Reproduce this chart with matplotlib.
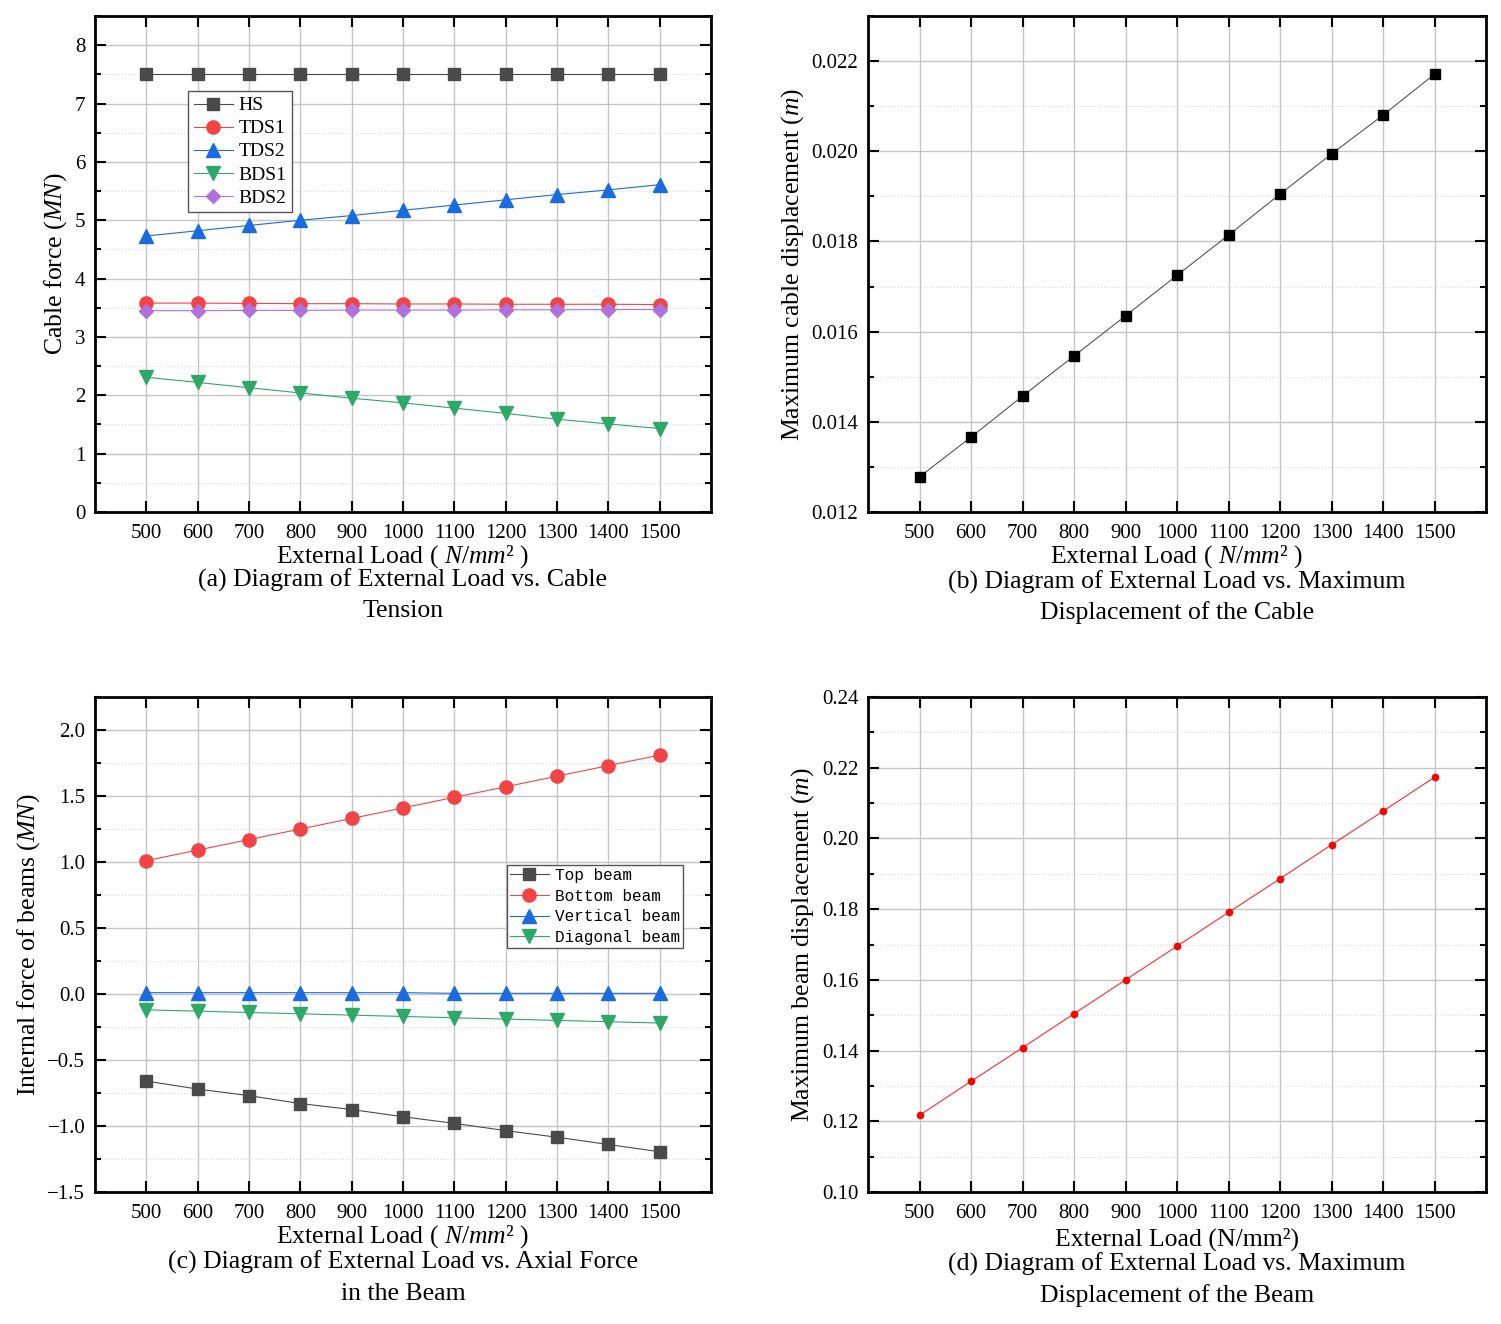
import matplotlib
matplotlib.use('Agg')
import matplotlib.pyplot as plt
from matplotlib.ticker import MultipleLocator, FormatStrFormatter

plt.rcParams['font.family'] = ['Liberation Serif', 'DejaVu Serif']
plt.rcParams['mathtext.fontset'] = 'custom'
plt.rcParams['mathtext.rm'] = 'Liberation Serif'
plt.rcParams['mathtext.it'] = 'Liberation Serif:italic'
plt.rcParams['mathtext.bf'] = 'Liberation Serif:bold'

# data
loads = [500, 600, 700, 800, 900, 1000, 1100, 1200, 1300, 1400, 1500]

hs = [7.5, 7.5, 7.5, 7.5, 7.5, 7.5, 7.5, 7.5, 7.5, 7.5, 7.5]
tds1 = [3.58, 3.58, 3.575, 3.57, 3.57, 3.565, 3.565, 3.56, 3.56, 3.56, 3.555]
tds2 = [4.73, 4.82, 4.91, 5.0, 5.08, 5.17, 5.26, 5.35, 5.44, 5.52, 5.61]
bds1 = [2.31, 2.22, 2.13, 2.04, 1.95, 1.87, 1.78, 1.69, 1.59, 1.51, 1.43]
bds2 = [3.45, 3.45, 3.455, 3.455, 3.46, 3.46, 3.46, 3.465, 3.465, 3.47, 3.47]

cable_disp = [0.01278, 0.01366, 0.01457, 0.01546, 0.01635, 0.01725,
              0.01814, 0.01905, 0.01994, 0.02080, 0.02171]

top_beam = [-0.66, -0.72, -0.77, -0.83, -0.875, -0.93, -0.98, -1.035, -1.085, -1.14, -1.195]
bottom_beam = [1.01, 1.09, 1.17, 1.25, 1.33, 1.41, 1.49, 1.57, 1.65, 1.73, 1.81]
vertical_beam = [0.01, 0.01, 0.01, 0.01, 0.01, 0.01, 0.005, 0.005, 0.005, 0.005, 0.005]
diagonal_beam = [-0.12, -0.13, -0.14, -0.15, -0.16, -0.17, -0.18, -0.19, -0.20, -0.21, -0.22]

beam_disp = [0.1217, 0.1313, 0.1408, 0.1504, 0.1600, 0.1695,
             0.1791, 0.1886, 0.1982, 0.2077, 0.2173]

fig = plt.figure(figsize=(15.01, 13.24), dpi=100)
W, H = 1501, 1324


def make_ax(l, t, r, b):
    return fig.add_axes([l / W, 1 - b / H, (r - l) / W, (b - t) / H])


def style(ax, ylim, major, minor):
    ax.set_xlim(400, 1600)
    ax.set_xticks(loads)
    ax.set_ylim(*ylim)
    ax.yaxis.set_major_locator(MultipleLocator(major))
    ax.yaxis.set_minor_locator(MultipleLocator(minor))
    ax.tick_params(which='both', direction='in', top=True, right=True,
                   labelsize=15, width=1.5, pad=7)
    ax.tick_params(axis='x', pad=9)
    ax.tick_params(which='major', length=8)
    ax.tick_params(which='minor', length=4)
    ax.tick_params(axis='x', which='minor', bottom=False, top=False)
    ax.grid(which='major', color='#c4c4c4', lw=1.0)
    ax.grid(which='minor', axis='y', color='#d8d8d8', lw=0.8, ls=':')
    ax.set_axisbelow(True)
    for s in ax.spines.values():
        s.set_linewidth(2)
    ax.set_xlabel('External Load ( $\\mathit{N/mm\u00b2}$ )', fontsize=18.5, labelpad=0)


# (a)
ax1 = make_ax(95, 16, 711, 512)
ax1.plot(loads, hs, marker='s', ms=8, color='#4a4a4a', lw=0.8, label='HS')
ax1.plot(loads, tds1, marker='o', ms=9.5, color='#f24444', lw=0.8, label='TDS1')
ax1.plot(loads, tds2, marker='^', ms=9.5, color='#1a6ae0', lw=0.8, label='TDS2')
ax1.plot(loads, bds1, marker='v', ms=9.5, color='#2ea866', lw=0.8, label='BDS1')
ax1.plot(loads, bds2, marker='D', ms=7, color='#b070dd', lw=0.8, label='BDS2')
style(ax1, (0, 8.5), 1, 0.5)
ax1.set_ylabel(r'Cable force ($\mathit{MN}$)', fontsize=18.5)
leg1 = ax1.legend(loc='upper left', bbox_to_anchor=(0.151, 0.849), fontsize=14,
                  fancybox=False, edgecolor='#555555', framealpha=1,
                  handlelength=2.0, borderpad=0.3, labelspacing=0.28,
                  handletextpad=0.3, borderaxespad=0)
leg1.get_frame().set_linewidth(1.0)

# (b)
ax2 = make_ax(868, 16, 1486, 512)
ax2.plot(loads, cable_disp, marker='s', ms=7.5, color='#555555', lw=0.8,
         mfc='black', mec='black')
style(ax2, (0.012, 0.023), 0.002, 0.001)
ax2.set_ylabel(r'Maximum cable displacement ($\mathit{m}$)', fontsize=18.5)

# (c)
ax3 = make_ax(95, 697, 711, 1192)
ax3.plot(loads, top_beam, marker='s', ms=8, color='#4a4a4a', lw=0.8, label='Top beam')
ax3.plot(loads, bottom_beam, marker='o', ms=9.5, color='#f24444', lw=0.8, label='Bottom beam')
ax3.plot(loads, vertical_beam, marker='^', ms=9.5, color='#1a6ae0', lw=0.8, label='Vertical beam')
ax3.plot(loads, diagonal_beam, marker='v', ms=9.5, color='#2ea866', lw=0.8, label='Diagonal beam')
style(ax3, (-1.5, 2.25), 0.5, 0.25)
ax3.set_yticks([-1.5, -1.0, -0.5, 0.0, 0.5, 1.0, 1.5, 2.0])
ax3.set_yticklabels(['\u22121.5', '\u22121.0', '\u22120.5', '0.0', '0.5', '1.0', '1.5', '2.0'])
ax3.set_ylabel(r'Internal force of beams ($\mathit{MN}$)', fontsize=18.5)
leg3 = ax3.legend(loc='upper left', bbox_to_anchor=(0.669, 0.661),
                  prop={'family': 'Liberation Mono', 'size': 11.5},
                  fancybox=False, edgecolor='#555555', framealpha=1,
                  handlelength=2.4, borderpad=0.2, labelspacing=0.35,
                  handletextpad=0.4, borderaxespad=0)
leg3.get_frame().set_linewidth(1.0)

# (d)
ax4 = make_ax(868, 697, 1486, 1192)
ax4.plot(loads, beam_disp, marker='o', ms=4.5, color='#ff2a2a', lw=0.8,
         mfc='red', mec='red')
style(ax4, (0.10, 0.24), 0.02, 0.01)
ax4.yaxis.set_major_formatter(FormatStrFormatter('%.2f'))
ax4.set_xlabel('External Load (N/mm\u00b2)', fontsize=18.5, labelpad=3)
ax4.set_ylabel(r'Maximum beam displacement ($\mathit{m}$)', fontsize=18.5)

# captions
captions = [
    (403, 580, '(a) Diagram of External Load vs. Cable'),
    (403, 611, 'Tension'),
    (1177, 582, '(b) Diagram of External Load vs. Maximum'),
    (1177, 613, 'Displacement of the Cable'),
    (403, 1262, '(c) Diagram of External Load vs. Axial Force'),
    (403, 1294, 'in the Beam'),
    (1177, 1264, '(d) Diagram of External Load vs. Maximum'),
    (1177, 1296, 'Displacement of the Beam'),
]
for x, y, s in captions:
    fig.text(x / W, 1 - y / H, s, ha='center', va='center', fontsize=18.5)

fig.savefig('out.png', dpi=100)
